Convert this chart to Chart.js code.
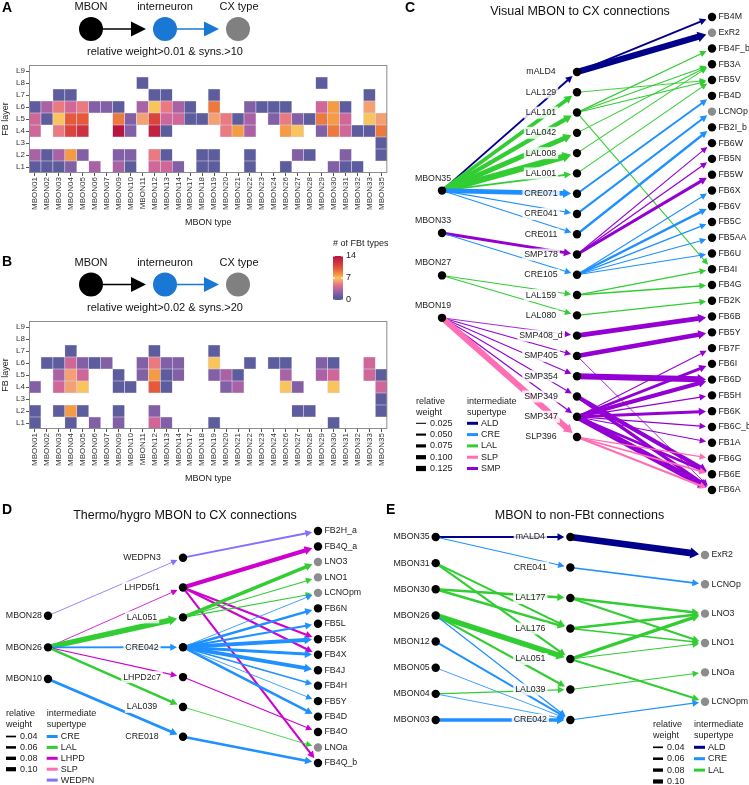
<!DOCTYPE html>
<html>
<head>
<meta charset="utf-8">
<script src="https://cdn.jsdelivr.net/npm/chart.js@4.4.0/dist/chart.umd.min.js"></script>
<style>
html, body { margin: 0; padding: 0; background: #fff; }
body { width: 749px; height: 785px; position: relative; overflow: hidden; }
canvas { position: absolute; }
</style>
</head>
<body>
<canvas id="heatA" width="392" height="230" style="left:0;top:0"></canvas>
<canvas id="heatB" width="392" height="246" style="left:0;top:240px"></canvas>
<canvas id="netC" width="354" height="520" style="left:395px;top:0"></canvas>
<canvas id="netD" width="375" height="295" style="left:0;top:490px"></canvas>
<canvas id="netE" width="374" height="295" style="left:375px;top:490px"></canvas>
<script>
// ---- heatmap data (rows are FB layers L1..L9, one value per MBON type) ----
const mbonTypes = ['MBON01','MBON02','MBON03','MBON04','MBON05','MBON06','MBON07','MBON09','MBON10','MBON11',
    'MBON12','MBON13','MBON14','MBON17','MBON18','MBON19','MBON20','MBON21','MBON22','MBON23',
    'MBON24','MBON26','MBON27','MBON28','MBON29','MBON30','MBON31','MBON32','MBON33','MBON35'];
const fbLayers = ['L1','L2','L3','L4','L5','L6','L7','L8','L9'];

// # of FBt types, 0 = no connection (white)
const countsA = [
    [1,1,1,2,0, 3,0,3,1,0, 4,4,2,0,1, 1,0,0,1,0, 0,1,0,0,0, 2,1,1,0,0],
    [3,1,3,8,2, 0,0,2,2,0, 5,1,0,0,1, 1,0,0,1,0, 0,0,2,1,0, 0,2,0,0,1],
    [0,0,0,0,0, 0,0,0,0,0, 0,0,0,0,0, 0,0,0,0,0, 0,0,0,0,0, 0,0,0,0,1],
    [4,0,5,11,12, 0,0,14,2,0, 13,1,0,0,0, 0,5,8,3,0, 0,8,7,0,2, 9,4,1,1,9],
    [4,1,7,10,10, 0,0,9,2,6, 11,4,4,1,1, 6,5,1,3,0, 2,5,2,1,9, 8,4,0,7,6],
    [1,3,5,4,5, 2,2,1,0,3, 7,5,3,1,0, 9,0,0,2,1, 1,1,0,0,4, 8,1,0,6,0],
    [0,0,1,1,0, 0,0,0,0,0, 1,1,0,0,0, 1,0,0,0,0, 0,0,0,0,0, 0,0,0,1,0],
    [0,0,0,0,0, 0,0,0,0,1, 0,0,0,0,0, 0,0,0,0,0, 0,0,0,0,1, 0,0,0,0,0],
    [0,0,0,0,0, 0,0,0,0,0, 0,0,0,0,0, 0,0,0,0,0, 0,0,0,0,0, 0,0,0,0,0],
];
const countsB = [
    [1,0,0,1,0, 2,0,2,0,0, 4,2,0,0,0, 1,0,0,0,0, 0,0,0,0,0, 1,0,0,0,0],
    [1,0,1,8,1, 0,0,1,0,0, 2,0,0,0,0, 0,0,0,0,0, 0,0,1,1,0, 0,0,0,0,1],
    [0,0,0,0,0, 0,0,0,0,0, 0,0,0,0,0, 0,0,0,0,0, 0,0,0,0,0, 0,0,0,0,1],
    [2,0,4,6,7, 0,0,1,1,0, 10,1,0,0,0, 0,2,3,0,0, 0,7,2,0,0, 7,0,0,0,4],
    [0,0,3,6,4, 0,0,1,0,2, 8,1,2,0,0, 2,3,1,0,0, 0,3,0,0,3, 4,0,0,4,1],
    [0,1,1,4,2, 1,2,0,0,2, 5,2,2,0,0, 7,0,0,1,0, 1,1,0,0,2, 1,0,0,4,0],
    [0,0,0,1,0, 0,0,0,0,0, 1,0,0,0,0, 1,0,0,0,0, 0,0,0,0,0, 0,0,0,0,0],
    [0,0,0,0,0, 0,0,0,0,0, 0,0,0,0,0, 0,0,0,0,0, 0,0,0,0,0, 0,0,0,0,0],
    [0,0,0,0,0, 0,0,0,0,0, 0,0,0,0,0, 0,0,0,0,0, 0,0,0,0,0, 0,0,0,0,0],
];
const colorbarTicks = [0, 7, 14];
const noteA = 'relative weight>0.01 & syns.>10';
const noteB = 'relative weight>0.02 & syns.>20';

// ---- network data ----
const nonFbt = ['ExR2','LCNOp','LNO3','LNO1','LCNOpm','LNOa'];
const supertypes = ['ALD','CRE','LAL','LHPD','SLP','SMP','WEDPN'];

const cMbons = ['MBON35','MBON33','MBON27','MBON19'];
const cInter = ['mALD4','LAL129','LAL101','LAL042','LAL008','LAL001','CRE071','CRE041','CRE011','SMP178',
    'CRE105','LAL159','LAL080','SMP408_d','SMP405','SMP354','SMP349','SMP347','SLP396'];
const cTargets = ['FB4M','ExR2','FB4F_b','FB3A','FB5V','FB4D','LCNOp','FB2I_b','FB6W','FB5N','FB5W','FB6X',
    'FB6V','FB5C','FB5AA','FB6U','FB4I','FB4G','FB2K','FB6B','FB5Y','FB7F','FB6I','FB6D','FB5H','FB6K',
    'FB6C_b','FB1A','FB6G','FB6E','FB6A'];
const cEdgesIn = [
    ['MBON35','mALD4',0.045], ['MBON35','LAL129',0.09], ['MBON35','LAL101',0.1], ['MBON35','LAL042',0.12],
    ['MBON35','LAL008',0.15], ['MBON35','LAL001',0.045], ['MBON35','CRE071',0.11], ['MBON35','CRE041',0.03],
    ['MBON35','CRE011',0.025], ['MBON33','SMP178',0.07], ['MBON33','CRE105',0.025], ['MBON27','LAL159',0.025],
    ['MBON27','LAL080',0.025], ['MBON19','SMP408_d',0.02], ['MBON19','SMP405',0.025], ['MBON19','SMP354',0.025],
    ['MBON19','SMP349',0.025], ['MBON19','SMP347',0.03], ['MBON19','SLP396',0.14],
];
const cEdgesOut = [
    ['mALD4','FB4M',0.045], ['mALD4','ExR2',0.15], ['LAL129','FB5V',0.022], ['LAL101','FB4F_b',0.03],
    ['LAL101','FB3A',0.025], ['LAL101','FB5V',0.025], ['LAL101','FB4I',0.025], ['LAL042','FB3A',0.025],
    ['LAL008','FB3A',0.025], ['LAL001','FB5V',0.025], ['CRE071','FB4D',0.045], ['CRE041','LCNOp',0.05],
    ['CRE011','FB2I_b',0.055], ['SMP178','FB6W',0.025], ['SMP178','FB5N',0.03], ['SMP178','FB5W',0.07],
    ['CRE105','FB6X',0.025], ['CRE105','FB6V',0.055], ['CRE105','FB5C',0.03], ['CRE105','FB5AA',0.025],
    ['CRE105','FB6U',0.025], ['LAL159','FB4I',0.03], ['LAL159','FB4G',0.035], ['LAL080','FB2K',0.03],
    ['SMP408_d','FB6B',0.11], ['SMP405','FB5Y',0.11], ['SMP405','FB6A',0.02], ['SMP354','FB6D',0.14],
    ['SMP349','FB6E',0.1], ['SMP349','FB6A',0.08], ['SMP347','FB7F',0.025], ['SMP347','FB6I',0.07],
    ['SMP347','FB6D',0.1], ['SMP347','FB5H',0.03], ['SMP347','FB6K',0.07], ['SMP347','FB6C_b',0.03],
    ['SMP347','FB1A',0.025], ['SMP347','FB6E',0.06], ['SMP347','FB6A',0.14], ['SLP396','FB6G',0.03],
    ['SLP396','FB6E',0.04], ['SLP396','FB6A',0.05],
];
const cWeights = [0.025, 0.05, 0.075, 0.1, 0.125];
const cTypes = ['ALD','CRE','LAL','SLP','SMP'];

const dMbons = ['MBON28','MBON26','MBON10'];
const dInter = ['WEDPN3','LHPD5f1','LAL051','CRE042','LHPD2c7','LAL039','CRE018'];
const dTargets = ['FB2H_a','FB4Q_a','LNO3','LNO1','LCNOpm','FB6N','FB5L','FB5K','FB4X','FB4J','FB4H',
    'FB5Y','FB4D','FB4O','LNOa','FB4Q_b'];
const dEdgesIn = [
    ['MBON28','WEDPN3',0.02], ['MBON26','LHPD5f1',0.02], ['MBON26','LAL051',0.13], ['MBON26','CRE042',0.045],
    ['MBON26','LHPD2c7',0.025], ['MBON26','LAL039',0.055], ['MBON10','CRE018',0.07],
];
const dEdgesOut = [
    ['WEDPN3','FB2H_a',0.045], ['LHPD5f1','FB4Q_a',0.1], ['LHPD5f1','FB5K',0.05], ['LHPD5f1','FB4X',0.05],
    ['LHPD5f1','FB4Q_b',0.05], ['LAL051','LNO3',0.08], ['LAL051','LNO1',0.025], ['LAL051','LCNOpm',0.025],
    ['CRE042','LCNOpm',0.02], ['CRE042','FB6N',0.06], ['CRE042','FB5L',0.05], ['CRE042','FB5K',0.09],
    ['CRE042','FB4X',0.07], ['CRE042','FB4J',0.09], ['CRE042','FB4H',0.035], ['CRE042','FB5Y',0.02],
    ['CRE042','FB4D',0.06], ['LHPD2c7','FB4O',0.025], ['LAL039','LNOa',0.02], ['CRE018','FB4Q_b',0.06],
];
const dWeights = [0.04, 0.06, 0.08, 0.1];
const dTypes = ['CRE','LAL','LHPD','SLP','WEDPN'];

const eMbons = ['MBON35','MBON31','MBON30','MBON26','MBON12','MBON05','MBON04','MBON03'];
const eInter = ['mALD4','CRE041','LAL177','LAL176','LAL051','LAL039','CRE042'];
const eTargets = ['ExR2','LCNOp','LNO3','LNO1','LNOa','LCNOpm'];
const eEdgesIn = [
    ['MBON35','mALD4',0.05], ['MBON35','CRE041',0.025], ['MBON31','LAL176',0.05], ['MBON31','LAL051',0.05],
    ['MBON30','LAL177',0.06], ['MBON30','LAL176',0.06], ['MBON26','LAL051',0.13], ['MBON26','LAL039',0.05],
    ['MBON26','CRE042',0.03], ['MBON12','CRE042',0.045], ['MBON05','CRE042',0.02], ['MBON04','LAL039',0.03],
    ['MBON04','CRE042',0.02], ['MBON03','CRE042',0.08],
];
const eEdgesOut = [
    ['mALD4','ExR2',0.16], ['CRE041','LCNOp',0.04], ['LAL177','LNO3',0.06], ['LAL177','LNO1',0.05],
    ['LAL176','LNO3',0.06], ['LAL176','LNO1',0.04], ['LAL051','LNO3',0.08], ['LAL051','LNO1',0.025],
    ['LAL051','LCNOpm',0.05], ['LAL039','LNOa',0.025], ['CRE042','LCNOpm',0.03],
];
const eWeights = [0.04, 0.06, 0.08, 0.1];
const eTypes = ['ALD','CRE','LAL'];

// ---- styles ----
const FONT = "'Liberation Sans', Arial, Helvetica, sans-serif";
Chart.defaults.font.family = FONT;
Chart.defaults.font.size = 8;
Chart.defaults.animation = false;

const typeColors = {
    ALD: '#00008b', CRE: '#1e90ff', LAL: '#32cd32', LHPD: '#cd00cd',
    SLP: '#ff6eb4', SMP: '#9400d3', WEDPN: '#8470ff',
};
const colorStops = [
    [0, '#4e5896'], [1, '#5d5c9c'], [2, '#8260a6'], [3, '#a963a4'], [4, '#cf6898'], [5, '#e97a80'],
    [6, '#f3a072'], [7, '#f7c45d'], [8, '#f39b45'], [9, '#ec7a3e'], [10, '#e45a3b'], [11, '#d9443d'],
    [12, '#cc3140'], [13, '#c22240'], [14, '#b81640'],
];

function hexRgb(h) {
    return [1, 3, 5].map(i => parseInt(h.substr(i, 2), 16));
}
function countColor(v) {
    if (!v) return 'rgba(0,0,0,0)';
    for (let i = 1; i < colorStops.length; i++) {
        if (v <= colorStops[i][0]) {
            const [v0, c0] = colorStops[i - 1], [v1, c1] = colorStops[i];
            const t = (v - v0) / (v1 - v0), a = hexRgb(c0), b = hexRgb(c1);
            return 'rgb(' + a.map((x, k) => Math.round(x + (b[k] - x) * t)).join(',') + ')';
        }
    }
    return colorStops[colorStops.length - 1][1];
}
function supertypeOf(name) {
    if (name.startsWith('mALD')) return 'ALD';
    return supertypes.find(s => name.startsWith(s));
}
function edgeWidth(w) {
    return Math.max(0.7, 42 * w);
}

// ---- heatmaps ----
function drawSchematic(ctx, dy, note) {
    const cy = 29 + dy;
    ctx.font = '11px ' + FONT;
    ctx.fillStyle = '#111';
    ctx.textAlign = 'center';
    ctx.textBaseline = 'middle';
    ctx.fillText('MBON', 91, 7 + dy);
    ctx.fillText('interneuron', 165, 7 + dy);
    ctx.fillText('CX type', 239, 7 + dy);
    ctx.fillText(note, 165, 52 + dy);
    [[103, 146, '#000'], [177, 219, '#1a78d4']].forEach(([x1, x2, c]) => {
        ctx.strokeStyle = c;
        ctx.lineWidth = 1.5;
        ctx.beginPath();
        ctx.moveTo(x1, cy);
        ctx.lineTo(x2 - 14, cy);
        ctx.stroke();
        ctx.fillStyle = c;
        ctx.beginPath();
        ctx.moveTo(x2, cy);
        ctx.lineTo(x2 - 15, cy - 7.5);
        ctx.lineTo(x2 - 15, cy + 7.5);
        ctx.closePath();
        ctx.fill();
    });
    [[91, '#000'], [165, '#1a78d4'], [238, '#808080']].forEach(([x, c]) => {
        ctx.fillStyle = c;
        ctx.beginPath();
        ctx.arc(x, cy, 12, 0, Math.PI * 2);
        ctx.fill();
    });
}

function drawColorbar(ctx) {
    const x = 333, top = 16, bottom = 60, w = 10;
    ctx.font = '9px ' + FONT;
    ctx.fillStyle = '#222';
    ctx.textAlign = 'left';
    ctx.textBaseline = 'middle';
    ctx.fillText('# of FBt types', 333, 4);
    const g = ctx.createLinearGradient(0, bottom, 0, top);
    colorStops.forEach(([v, c]) => g.addColorStop(v / 14, c));
    ctx.fillStyle = g;
    ctx.fillRect(x, top, w, bottom - top);
    colorbarTicks.forEach(v => {
        const y = bottom - (bottom - top) * v / 14;
        ctx.strokeStyle = '#fff';
        ctx.lineWidth = 1;
        ctx.beginPath();
        ctx.moveTo(x, y); ctx.lineTo(x + 2, y);
        ctx.moveTo(x + w - 2, y); ctx.lineTo(x + w, y);
        ctx.stroke();
        ctx.fillStyle = '#222';
        ctx.fillText(String(v), x + w + 3, y);
    });
}

function heatmapChart(canvasId, counts, deco) {
    const datasets = counts.map((row, li) => ({
        data: row.map(v => (v > 0 ? [li + 0.5, li + 1.5] : null)),
        backgroundColor: row.map(v => countColor(v)),
        borderColor: 'rgba(222,212,238,0.9)',
        borderWidth: 0.6,
        borderSkipped: false,
        grouped: false,
        barPercentage: 1,
        categoryPercentage: 1,
    }));
    const decoPlugin = {
        id: 'deco_' + canvasId,
        afterDraw(chart) {
            const ctx = chart.ctx, a = chart.chartArea;
            ctx.save();
            ctx.strokeStyle = '#8c8c8c';
            ctx.lineWidth = 1;
            ctx.strokeRect(a.left + 0.5, a.top + 0.5, a.right - a.left - 1, a.bottom - a.top - 1);
            drawSchematic(ctx, deco.dy, deco.note);
            ctx.font = 'bold 14px ' + FONT;
            ctx.fillStyle = '#000';
            ctx.textAlign = 'left';
            ctx.textBaseline = 'middle';
            ctx.fillText(deco.letter, 2, deco.letterY);
            if (deco.colorbar) drawColorbar(ctx);
            ctx.restore();
        },
    };
    new Chart(document.getElementById(canvasId), {
        type: 'bar',
        data: { labels: mbonTypes, datasets },
        options: {
            responsive: false,
            animation: false,
            layout: { padding: { top: deco.top, left: 0, right: 3, bottom: 0 } },
            plugins: { legend: { display: false }, tooltip: { enabled: false } },
            scales: {
                x: {
                    grid: { display: true, drawOnChartArea: false, offset: false, tickLength: 3, color: '#555' },
                    border: { display: false },
                    ticks: { autoSkip: false, minRotation: 90, maxRotation: 90, padding: 1, color: '#333', font: { size: 8 } },
                    title: { display: true, text: 'MBON type', color: '#222', font: { size: 9 }, padding: { top: 0, bottom: 2 } },
                    afterFit(s) { s.height = 57; },
                },
                y: {
                    type: 'linear',
                    min: 0.5,
                    max: 9.5,
                    afterBuildTicks(s) { s.ticks = fbLayers.map((_, i) => ({ value: i + 1 })); },
                    grid: { display: true, drawOnChartArea: false, tickLength: 3, color: '#555' },
                    border: { display: false },
                    ticks: { callback: v => fbLayers[v - 1], padding: 1, color: '#333', font: { size: 8 } },
                    title: { display: true, text: 'FB layer', color: '#222', font: { size: 9 }, padding: { top: 0, bottom: 1 } },
                    afterFit(s) { s.width = 29; },
                },
            },
        },
        plugins: [decoPlugin],
    });
}

heatmapChart('heatA', countsA, { top: 65, dy: 0, note: noteA, letter: 'A', letterY: 8, colorbar: false });
heatmapChart('heatB', countsB, { top: 81, dy: 15.5, note: noteB, letter: 'B', letterY: 22, colorbar: true });

// ---- networks ----
function drawArrowEdge(ctx, x1, y1, x2, y2, w, color) {
    const dx = x2 - x1, dy = y2 - y1, len = Math.hypot(dx, dy);
    const ux = dx / len, uy = dy / len;
    const ex = x2 - ux * 6, ey = y2 - uy * 6;
    const hl = 6 + 0.4 * w, hw = 2.8 + 0.4 * w;
    const bx = ex - ux * hl, by = ey - uy * hl;
    ctx.strokeStyle = color;
    ctx.lineWidth = w;
    ctx.beginPath();
    ctx.moveTo(x1, y1);
    ctx.lineTo(bx + ux, by + uy);
    ctx.stroke();
    ctx.fillStyle = color;
    ctx.beginPath();
    ctx.moveTo(ex, ey);
    ctx.lineTo(bx - uy * hw, by + ux * hw);
    ctx.lineTo(bx + uy * hw, by - ux * hw);
    ctx.closePath();
    ctx.fill();
}

function drawNetLegend(ctx, lg) {
    ctx.font = '9px ' + FONT;
    ctx.textAlign = 'left';
    ctx.textBaseline = 'middle';
    ctx.fillStyle = '#222';
    ctx.fillText('relative', lg.wx, lg.hy);
    ctx.fillText('weight', lg.wx, lg.hy + 10.5);
    ctx.fillText('intermediate', lg.tx, lg.hy);
    ctx.fillText('supertype', lg.tx, lg.hy + 10.5);
    lg.weights.forEach((w, i) => {
        const y = lg.iy + i * lg.step, lw = edgeWidth(w);
        ctx.fillStyle = '#000';
        ctx.fillRect(lg.wx, y - lw / 2, 10, lw);
        ctx.fillStyle = '#222';
        ctx.fillText(w.toFixed(lg.digits), lg.wx + 14, y);
    });
    lg.types.forEach((t, i) => {
        const y = lg.iy + i * lg.step;
        ctx.fillStyle = typeColors[t];
        ctx.fillRect(lg.tx, y - 1.5, 11, 3);
        ctx.fillStyle = '#222';
        ctx.fillText(t, lg.tx + 14, y);
    });
}

function networkChart(canvasId, cfg) {
    const columns = [cfg.mbons, cfg.inter, cfg.targets];
    const pos = columns.map((names, ci) => {
        const [a, b] = cfg.spans[ci];
        const m = {};
        names.forEach((n, i) => { m[n] = a + (b - a) * (names.length > 1 ? i / (names.length - 1) : 0.5); });
        return m;
    });
    const datasets = columns.map((names, ci) => ({
        data: names.map(n => ({ x: ci, y: pos[ci][n] })),
        pointRadius: 4.2,
        pointBackgroundColor: names.map(n => (ci === 2 && nonFbt.includes(n) ? '#8c8c8c' : '#000')),
        pointBorderWidth: 0,
        clip: false,
    }));
    const edges = cfg.edgesIn.map(e => [0, e[0], 1, e[1], e[2], e[1]])
        .concat(cfg.edgesOut.map(e => [1, e[0], 2, e[1], e[2], e[0]]));

    const netPlugin = {
        id: 'net_' + canvasId,
        beforeDatasetsDraw(chart) {
            const ctx = chart.ctx, sx = chart.scales.x, sy = chart.scales.y;
            ctx.save();
            edges.forEach(([c0, n0, c1, n1, w, via]) => {
                drawArrowEdge(ctx,
                    sx.getPixelForValue(c0), sy.getPixelForValue(pos[c0][n0]),
                    sx.getPixelForValue(c1), sy.getPixelForValue(pos[c1][n1]),
                    edgeWidth(w), typeColors[supertypeOf(via)]);
            });
            ctx.restore();
        },
        afterDatasetsDraw(chart) {
            const ctx = chart.ctx, sx = chart.scales.x, sy = chart.scales.y;
            ctx.save();
            ctx.font = '8.8px ' + FONT;
            ctx.textBaseline = 'middle';
            cfg.mbons.forEach(n => {
                const x = sx.getPixelForValue(0), y = sy.getPixelForValue(pos[0][n]);
                ctx.fillStyle = '#222';
                if (cfg.mbonAbove) {
                    ctx.textAlign = 'center';
                    ctx.fillText(n, x - 9, y - 12.5);
                } else {
                    ctx.textAlign = 'right';
                    ctx.fillText(n, x - 6, y);
                }
            });
            cfg.inter.forEach(n => {
                const x = sx.getPixelForValue(1) - cfg.interOffset, y = sy.getPixelForValue(pos[1][n]);
                const tw = ctx.measureText(n).width;
                ctx.fillStyle = 'rgba(255,255,255,0.82)';
                ctx.fillRect(x - tw / 2 - 2, y - 6, tw + 4, 12);
                ctx.fillStyle = '#222';
                ctx.textAlign = 'center';
                ctx.fillText(n, x, y);
            });
            cfg.targets.forEach(n => {
                const x = sx.getPixelForValue(2), y = sy.getPixelForValue(pos[2][n]);
                ctx.fillStyle = '#222';
                ctx.textAlign = 'left';
                ctx.fillText(n, x + 6.5, y);
            });
            ctx.restore();
        },
        afterDraw(chart) {
            const ctx = chart.ctx;
            ctx.save();
            ctx.font = '12.5px ' + FONT;
            ctx.fillStyle = '#111';
            ctx.textAlign = 'center';
            ctx.textBaseline = 'middle';
            ctx.fillText(cfg.title, cfg.titleX, cfg.titleY);
            ctx.font = 'bold 14px ' + FONT;
            ctx.fillStyle = '#000';
            ctx.textAlign = 'left';
            ctx.fillText(cfg.letter, cfg.letterX, cfg.letterY);
            drawNetLegend(ctx, cfg.legend);
            ctx.restore();
        },
    };

    new Chart(document.getElementById(canvasId), {
        type: 'scatter',
        data: { datasets },
        options: {
            responsive: false,
            animation: false,
            layout: { padding: cfg.pad },
            plugins: { legend: { display: false }, tooltip: { enabled: false } },
            scales: {
                x: { display: false, min: 0, max: 2 },
                y: { display: false, min: 0, max: 1, reverse: true },
            },
        },
        plugins: [netPlugin],
    });
}

networkChart('netC', {
    mbons: cMbons, inter: cInter, targets: cTargets, edgesIn: cEdgesIn, edgesOut: cEdgesOut,
    spans: [[0.367, 0.636], [0.1163, 0.888], [0, 1]],
    pad: { left: 47, right: 37, top: 17, bottom: 30 },
    mbonAbove: true, interOffset: 36,
    title: 'Visual MBON to CX connections', titleX: 185, titleY: 12, letter: 'C', letterX: 10, letterY: 8,
    legend: { wx: 21, tx: 72, hy: 402, iy: 423.3, step: 11.3, weights: cWeights, digits: 3, types: cTypes },
});

networkChart('netD', {
    mbons: dMbons, inter: dInter, targets: dTargets, edgesIn: dEdgesIn, edgesOut: dEdgesOut,
    spans: [[0.365, 0.638], [0.115, 0.887], [0, 1]],
    pad: { left: 48, right: 57, top: 41, bottom: 22 },
    mbonAbove: false, interOffset: 41,
    title: 'Thermo/hygro MBON to CX connections', titleX: 185, titleY: 25.7, letter: 'D', letterX: 2, letterY: 20,
    legend: { wx: 6, tx: 46.7, hy: 224, iy: 246.5, step: 10.9, weights: dWeights, digits: 2, types: dTypes },
});

networkChart('netE', {
    mbons: eMbons, inter: eInter, targets: eTargets, edgesIn: eEdgesIn, edgesOut: eEdgesOut,
    spans: [[0, 1], [0, 1], [0.098, 0.9]],
    pad: { left: 60.7, right: 44, top: 47, bottom: 65 },
    mbonAbove: false, interOffset: 40,
    title: 'MBON to non-FBt connections', titleX: 204.5, titleY: 25.7, letter: 'E', letterX: 11, letterY: 20,
    legend: { wx: 278, tx: 319, hy: 235, iy: 257.3, step: 11.4, weights: eWeights, digits: 2, types: eTypes },
});
</script>
</body>
</html>
